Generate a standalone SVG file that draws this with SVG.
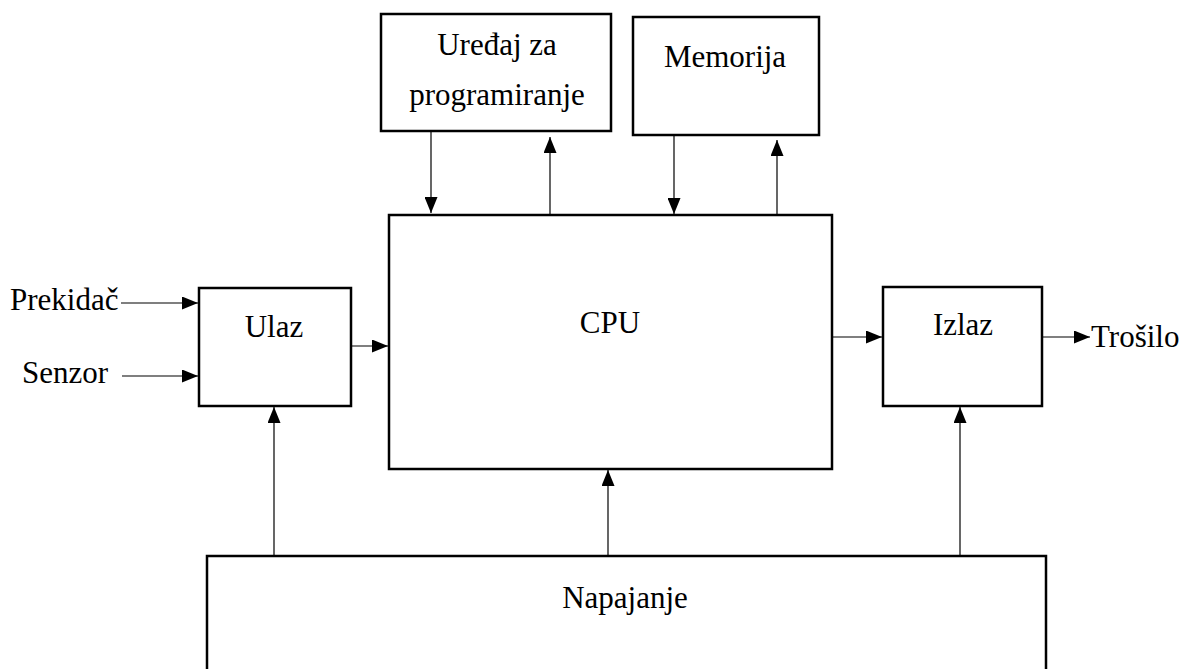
<svg xmlns="http://www.w3.org/2000/svg" width="1194" height="669" viewBox="0 0 1194 669">
<style>
.box{fill:#fff;stroke:#000;stroke-width:2.5}
.t{font-family:'Liberation Serif','Times New Roman','DejaVu Serif',serif;font-size:31px;fill:#000}
.c{text-anchor:middle}
.ln{stroke:#000;stroke-width:1.2;fill:none;marker-end:url(#ah)}
</style>
<defs>
<marker id="ah" markerUnits="userSpaceOnUse" markerWidth="17" markerHeight="13" refX="16" refY="6.5" orient="auto">
<path d="M0,0 L16,6.5 L0,13 z" fill="#000"/>
</marker>
</defs>
<rect width="1194" height="669" fill="#fff"/>
<g id="connectors">
<line class="ln" x1="431" y1="131" x2="431" y2="213"/>
<line class="ln" x1="550" y1="215" x2="550" y2="137"/>
<line class="ln" x1="674" y1="135" x2="674" y2="214"/>
<line class="ln" x1="777" y1="215" x2="777" y2="140"/>
<line class="ln" x1="121" y1="303" x2="198" y2="303"/>
<line class="ln" x1="122" y1="376" x2="198" y2="376"/>
<line class="ln" x1="351" y1="346" x2="388" y2="346"/>
<line class="ln" x1="832" y1="337" x2="882" y2="337"/>
<line class="ln" x1="1042" y1="337" x2="1090" y2="337"/>
<line class="ln" x1="274" y1="556" x2="274" y2="407"/>
<line class="ln" x1="608" y1="556" x2="608" y2="470"/>
<line class="ln" x1="960" y1="562" x2="960" y2="407"/>
</g>
<g id="uredjaj">
<rect class="box" x="381" y="14" width="230" height="117"/>
<text class="t c" x="497" y="55" font-family="Liberation Serif">Uređaj za</text>
<text class="t c" x="497" y="105" font-family="Liberation Serif">programiranje</text>
</g>
<g id="memorija">
<rect class="box" x="633" y="17" width="186" height="118"/>
<text class="t c" x="725" y="67" font-family="Liberation Serif">Memorija</text>
</g>
<g id="cpu">
<rect class="box" x="389" y="215" width="443" height="254"/>
<text class="t c" x="610" y="333" font-family="Liberation Serif">CPU</text>
</g>
<g id="ulaz">
<rect class="box" x="199" y="288" width="152" height="118"/>
<text class="t c" x="274" y="337" font-family="Liberation Serif">Ulaz</text>
</g>
<g id="izlaz">
<rect class="box" x="883" y="287" width="159" height="119"/>
<text class="t c" x="963" y="335" font-family="Liberation Serif">Izlaz</text>
</g>
<g id="napajanje">
<rect class="box" x="207" y="556" width="839" height="130"/>
<text class="t c" x="625" y="608" font-family="Liberation Serif">Napajanje</text>
</g>
<g id="prekidac"><text class="t" x="10" y="310" font-family="Liberation Serif">Prekidač</text></g>
<g id="senzor"><text class="t" x="22" y="383" font-family="Liberation Serif">Senzor</text></g>
<g id="trosilo"><text class="t" x="1091" y="347" font-family="Liberation Serif">Trošilo</text></g>
</svg>
